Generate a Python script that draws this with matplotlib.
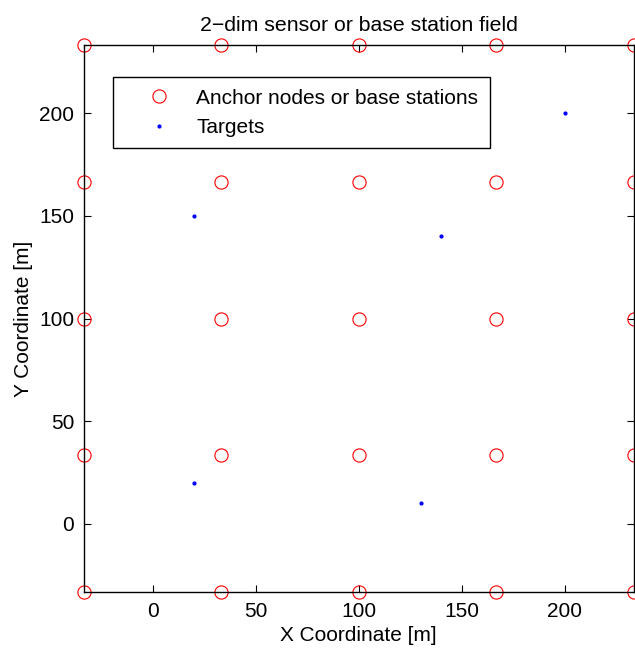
import matplotlib
matplotlib.use("Agg")
import matplotlib.pyplot as plt
import numpy as np

plt.rcParams['font.family'] = ['Liberation Sans', 'DejaVu Sans']

# anchor grid coordinates (5x5)
anchor_pos = [-33.33, 33.33, 100, 166.67, 233.33]
# target positions
target_x = [20, 20, 130, 140, 200]
target_y = [20, 150, 10, 140, 200]

ax_x, ax_y = np.meshgrid(anchor_pos, anchor_pos)

fig = plt.figure(figsize=(6.35, 6.5), dpi=100)
ax = fig.add_axes([0.132, 0.089, 0.866, 0.842])

ax.plot(ax_x.ravel(), ax_y.ravel(), 'o', mfc='none', mec='red', ms=9.5,
        mew=0.8, ls='none', label='Anchor nodes or base stations', clip_on=False)
ax.plot(target_x, target_y, '.', color='blue', ms=4, ls='none', label='Targets')

ax.set_xlim(-33.33, 233.33)
ax.set_ylim(-33.33, 233.33)
ax.set_xticks([0, 50, 100, 150, 200])
ax.set_yticks([0, 50, 100, 150, 200])
ax.tick_params(direction='in', top=True, right=True, labelsize=15, length=5, pad=7)
for s in ax.spines.values():
    s.set_linewidth(1.0)

ax.set_xlabel('X Coordinate [m]', fontsize=15, labelpad=4)
ax.set_ylabel('Y Coordinate [m]', fontsize=15, labelpad=4)
ax.set_title('2\u2212dim sensor or base station field', fontsize=15.3, pad=10)

leg = ax.legend(loc='upper left', bbox_to_anchor=(0.053, 0.941), fontsize=15,
                fancybox=False, framealpha=1, edgecolor='black', borderpad=0.55,
                borderaxespad=0, labelspacing=0.5, handletextpad=0.1, handlelength=3.35)
leg.get_frame().set_linewidth(1.0)

fig.savefig('out.png', dpi=100)
